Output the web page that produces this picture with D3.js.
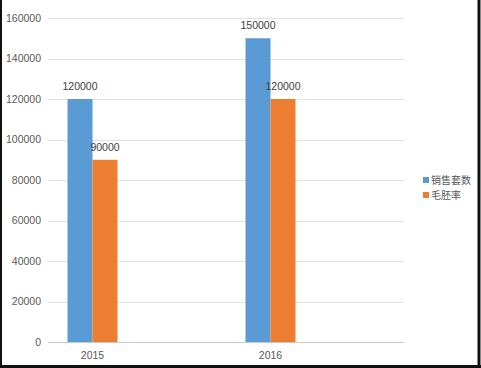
<!DOCTYPE html>
<html><head><meta charset="utf-8">
<script src="https://cdn.jsdelivr.net/npm/d3@7"></script>
<style>html,body{margin:0;padding:0;background:#fff;}svg{display:block;}</style>
</head><body>
<script>
const categories = ["2015", "", "2016", ""];
const seriesNames = ["销售套数", "毛胚率"];
const salesValues = [120000, null, 150000, null];
const rateValues = [90000, null, 120000, null];
const yTicks = [0, 20000, 40000, 60000, 80000, 100000, 120000, 140000, 160000];
const colors = ["#5b9bd5", "#ed7d31"];

const W = 481, H = 368;
const m = {left: 48, right: 77, top: 18, bottom: 26};
const svg = d3.select("body").append("svg").attr("width", W).attr("height", H);
svg.append("rect").attr("width", W).attr("height", H).attr("fill", "#fff");

const x = d3.scaleBand().domain(d3.range(categories.length)).range([m.left, W - m.right]);
const y = d3.scaleLinear().domain([0, 160000]).range([H - m.bottom, m.top]);

const font = "'Liberation Sans', Arial, sans-serif";
// gridlines
svg.append("g").selectAll("line").data(yTicks).join("line")
  .attr("x1", m.left).attr("x2", W - m.right)
  .attr("y1", d => Math.round(y(d)) + 0.5).attr("y2", d => Math.round(y(d)) + 0.5)
  .attr("stroke", d => d === 0 ? "#c8c8c8" : "#e3e3e3").attr("stroke-width", 1);

// y tick labels
svg.append("g").selectAll("text").data(yTicks).join("text")
  .attr("x", 41).attr("y", d => y(d)).attr("dy", "0.35em")
  .attr("text-anchor", "end").attr("font-family", font).attr("font-size", 10.5)
  .attr("fill", "#595959").text(d => d);

// x labels
svg.append("g").selectAll("text").data(categories).join("text")
  .attr("x", (d, i) => x(i) + x.bandwidth() / 2).attr("y", H - m.bottom + 17)
  .attr("text-anchor", "middle").attr("font-family", font).attr("font-size", 10.5)
  .attr("fill", "#595959").text(d => d);

const barW = 25;
const series = [salesValues, rateValues];
series.forEach((vals, s) => {
  const data = vals.map((v, i) => ({v, i})).filter(d => d.v != null);
  const g = svg.append("g");
  const bx = d => x(d.i) + x.bandwidth() / 2 - barW + s * barW;
  g.selectAll("rect").data(data).join("rect")
    .attr("x", bx).attr("width", barW)
    .attr("y", d => y(d.v)).attr("height", d => y(0) - y(d.v))
    .attr("fill", colors[s]);
  g.selectAll("text").data(data).join("text")
    .attr("x", d => bx(d) + barW / 2).attr("y", d => y(d.v) - 9)
    .attr("text-anchor", "middle").attr("font-family", font).attr("font-size", 10.5)
    .attr("fill", "#404040").text(d => d.v);
});

// legend
const lg = svg.append("g");
seriesNames.forEach((n, i) => {
  const cy = 180 + i * 15;
  lg.append("rect").attr("x", 423).attr("y", cy - 3).attr("width", 6).attr("height", 6).attr("fill", colors[i]);
  lg.append("text").attr("x", 431).attr("y", cy).attr("dy", "0.35em")
    .attr("font-family", "'Noto Sans CJK SC', sans-serif").attr("font-size", 10)
    .attr("fill", "#595959").text(n);
});

// frame border
svg.append("line").attr("x1", 1).attr("x2", 1).attr("y1", 0).attr("y2", H).attr("stroke", "#111").attr("stroke-width", 2);
svg.append("line").attr("x1", W - 2).attr("x2", W - 2).attr("y1", 0).attr("y2", H).attr("stroke", "#111").attr("stroke-width", 3);
svg.append("line").attr("x1", 0).attr("x2", W).attr("y1", H - 1.5).attr("y2", H - 1.5).attr("stroke", "#111").attr("stroke-width", 3);
</script>
</body></html>
